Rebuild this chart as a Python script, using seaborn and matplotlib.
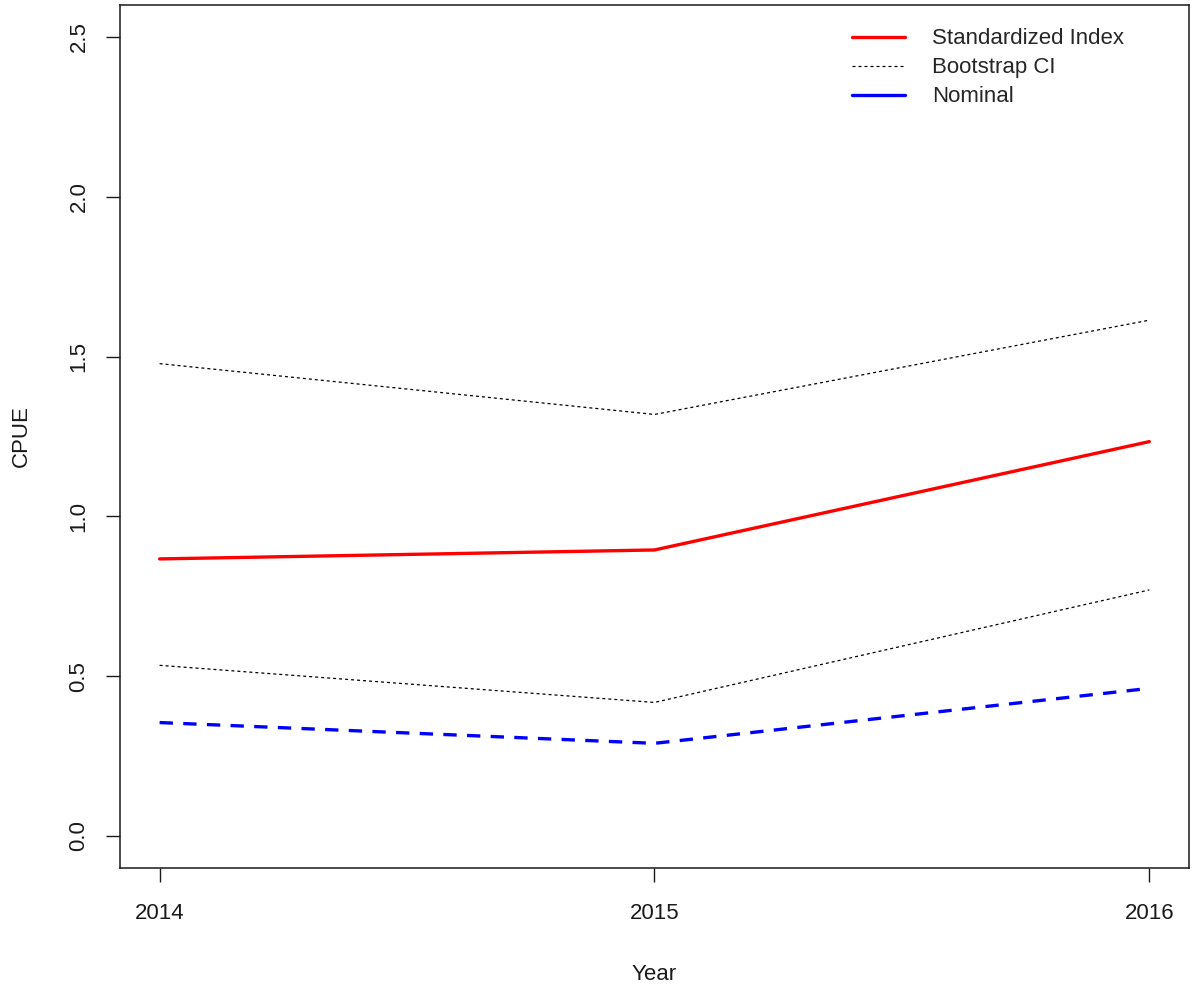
import matplotlib
matplotlib.use("Agg")
import matplotlib.pyplot as plt
from matplotlib.lines import Line2D
import seaborn as sns
import pandas as pd

years = [2014, 2015, 2016]
standardized = [0.867, 0.895, 1.234]
ci_upper = [1.478, 1.319, 1.614]
ci_lower = [0.534, 0.418, 0.770]
nominal = [0.355, 0.290, 0.462]

sns.set_style("white")
plt.rcParams["font.family"] = ["Liberation Sans", "DejaVu Sans"]

df = pd.DataFrame({"Year": years, "Standardized": standardized,
                   "Upper": ci_upper, "Lower": ci_lower, "Nominal": nominal})

FS = 16
TXT = "#1a1a1a"
DOT = (0, (2.4, 2.4))
DASH = (0, (4.0, 3.1))

fig = plt.figure(figsize=(11.93, 9.85), dpi=100)
ax = fig.add_axes([0.1006, 0.1188, 0.896, 0.8761])

sns.lineplot(data=df, x="Year", y="Standardized", ax=ax, color="red", lw=2.4)
sns.lineplot(data=df, x="Year", y="Upper", ax=ax, color="black", lw=0.9,
             linestyle=DOT)
sns.lineplot(data=df, x="Year", y="Lower", ax=ax, color="black", lw=0.9,
             linestyle=DOT)
sns.lineplot(data=df, x="Year", y="Nominal", ax=ax, color="blue", lw=2.4,
             linestyle=DASH)

ax.set_xlim(2013.92, 2016.08)
ax.set_ylim(-0.1, 2.6)
ax.set_xticks(years)
ax.set_xticklabels([str(y) for y in years])
ax.set_yticks([0.0, 0.5, 1.0, 1.5, 2.0, 2.5])
ax.set_yticklabels(["0.0", "0.5", "1.0", "1.5", "2.0", "2.5"], rotation=90,
                   va="center")
ax.tick_params(axis="both", direction="out", length=10, width=1.0,
               labelsize=FS, color=TXT, labelcolor=TXT,
               left=True, bottom=True)
ax.tick_params(axis="x", pad=15)
ax.tick_params(axis="y", pad=12)
for s in ax.spines.values():
    s.set_linewidth(1.1)
    s.set_color(TXT)
ax.set_xlabel("Year", fontsize=FS, labelpad=29, color=TXT)
ax.set_ylabel("CPUE", fontsize=FS, labelpad=26, color=TXT)

handles = [Line2D([], [], color="red", lw=2.4),
           Line2D([], [], color="black", lw=0.9, linestyle=DOT),
           Line2D([], [], color="blue", lw=2.4)]
ax.legend(handles, ["Standardized Index", "Bootstrap CI", "Nominal"],
          loc="upper left", bbox_to_anchor=(0.6848, 0.973),
          frameon=False, fontsize=FS, borderpad=0, borderaxespad=0,
          handlelength=2.4, handletextpad=1.2, labelspacing=0.36)

fig.savefig("out.png", dpi=100)
